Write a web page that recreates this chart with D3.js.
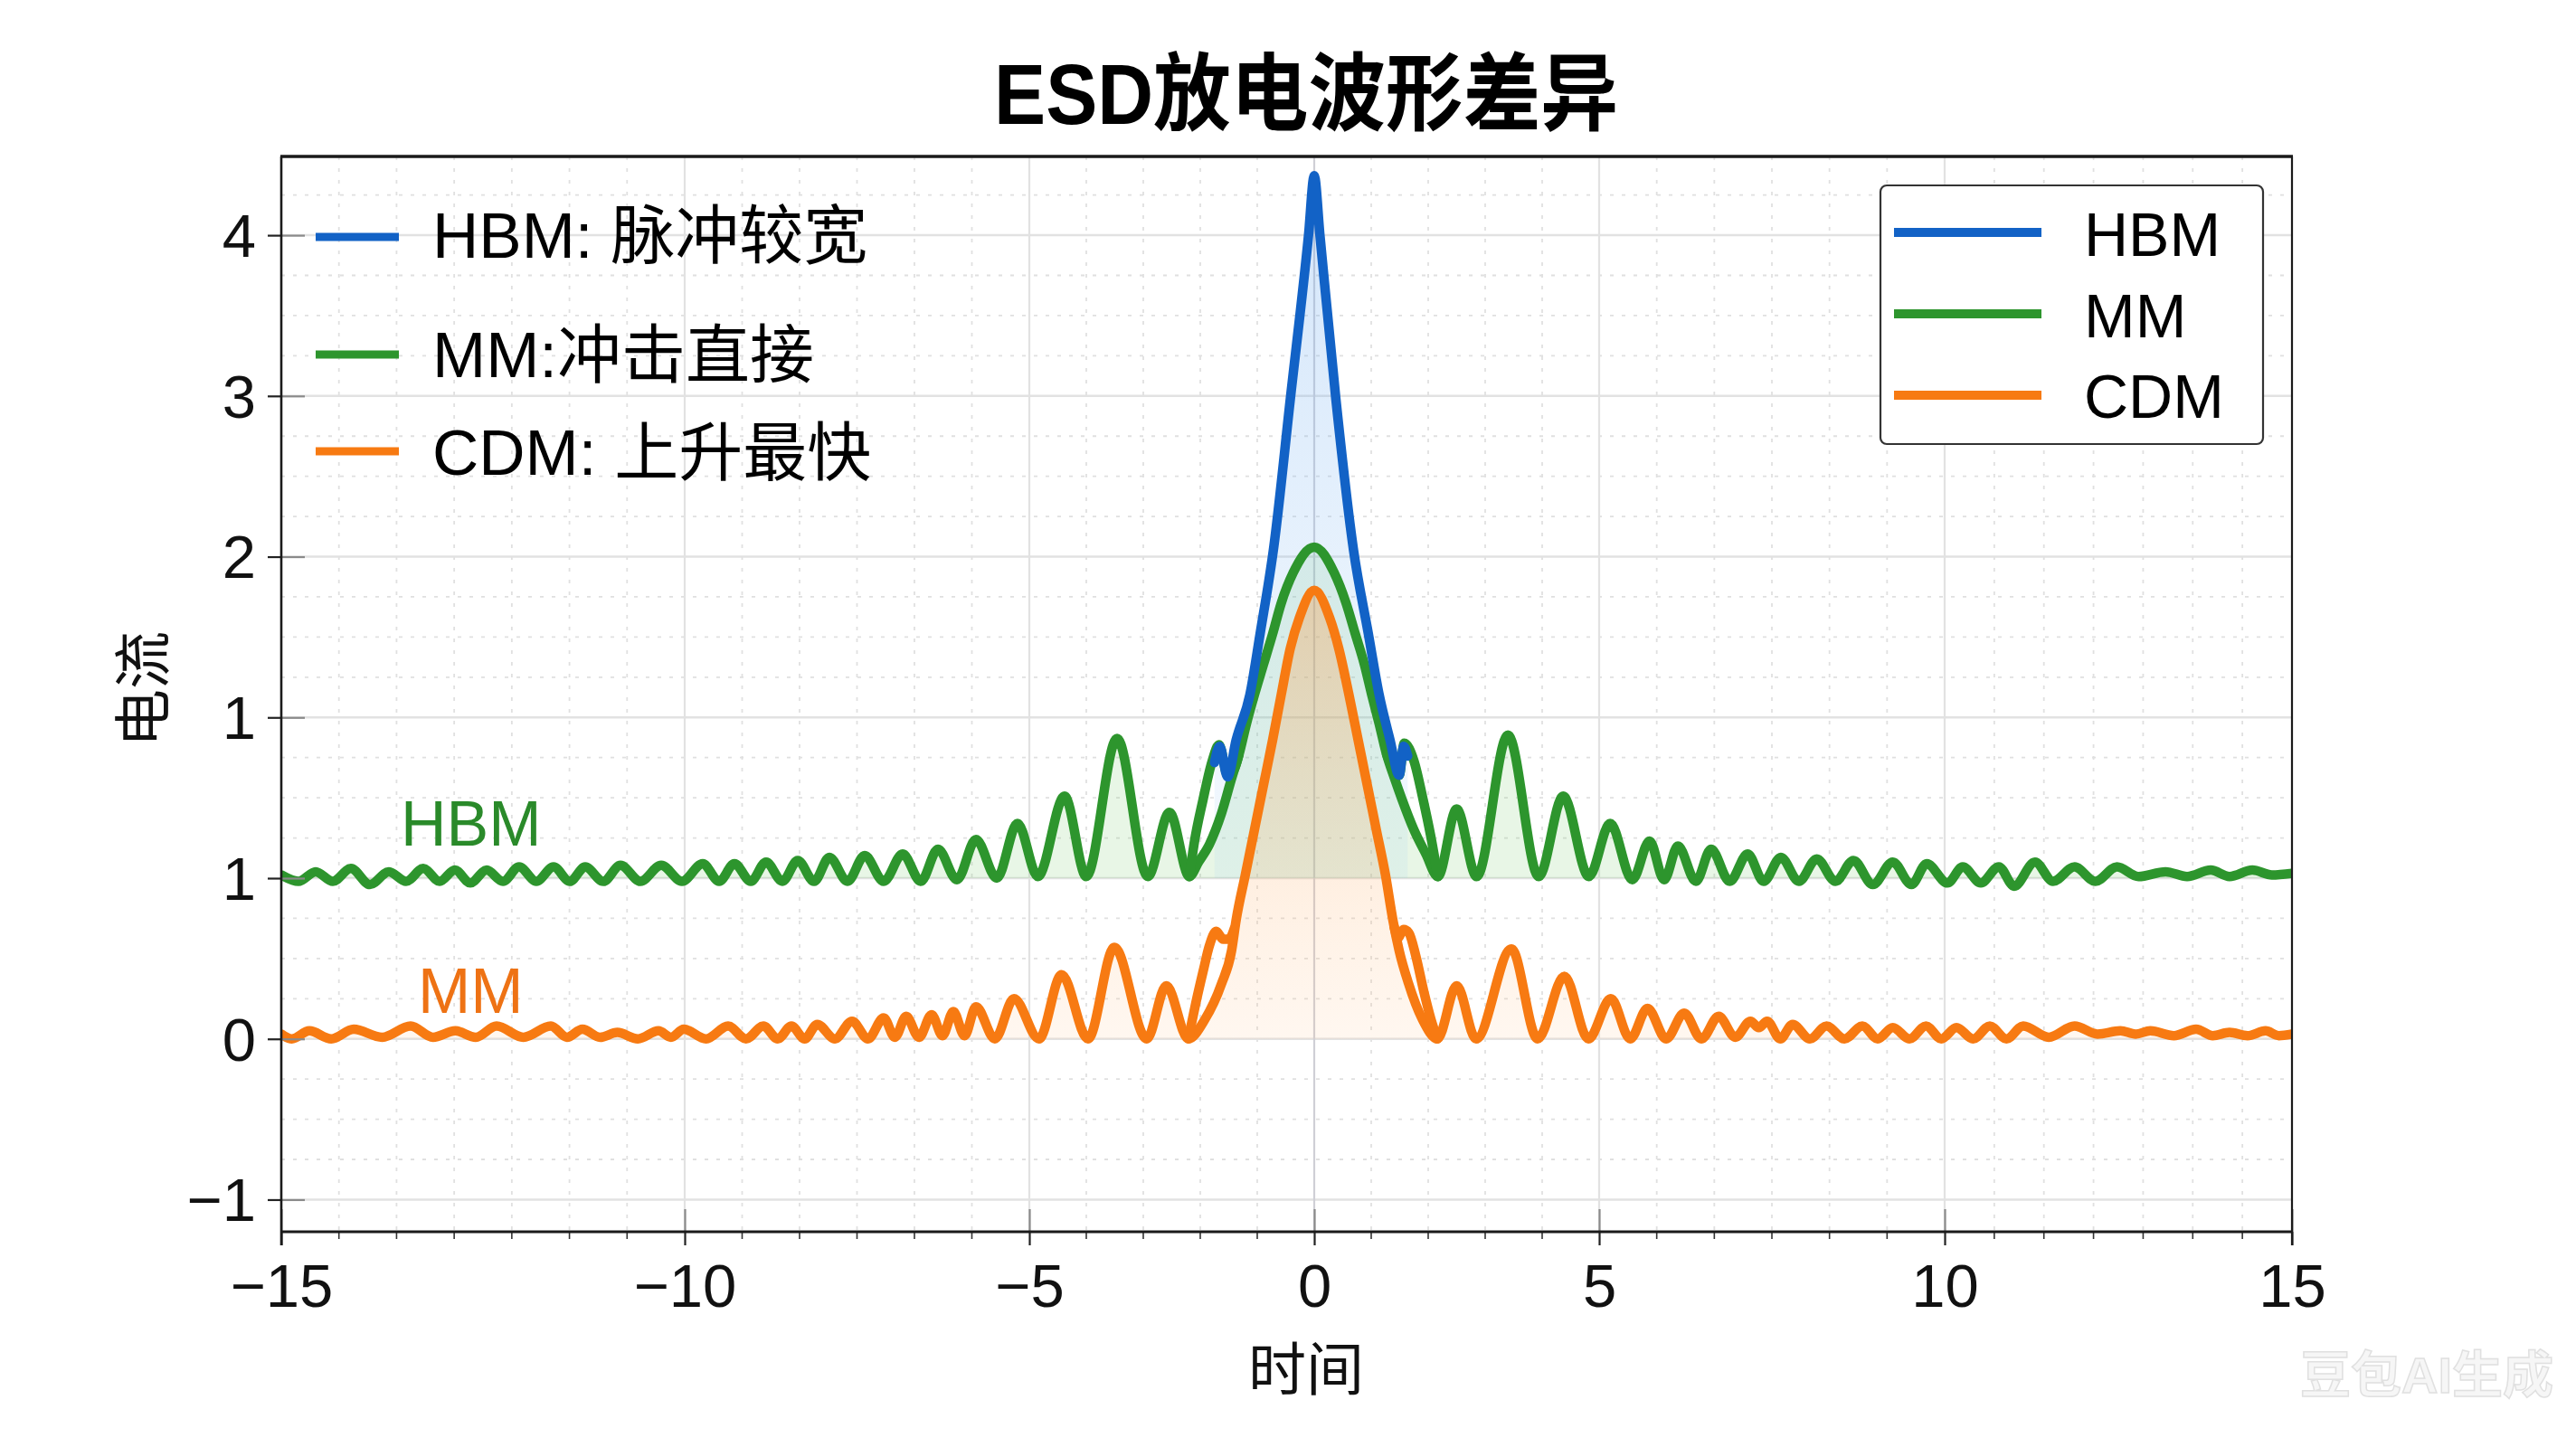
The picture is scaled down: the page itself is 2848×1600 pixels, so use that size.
<!DOCTYPE html>
<html><head><meta charset="utf-8">
<script src="https://cdn.jsdelivr.net/npm/d3@7"></script>
<style>
html,body{margin:0;padding:0;background:#fff;}
svg{display:block;}
text{font-family:"Liberation Sans","Noto Sans CJK SC",sans-serif;}
</style></head><body>
<svg id="chart" width="2848" height="1600"></svg>
<script>
// ---------- data ----------
const chartTitle = "ESD放电波形差异";
const xAxisTitle = "时间";
const yAxisTitle = "电流";
const seriesNames = ["HBM", "MM", "CDM"];
const noteTexts = ["HBM: 脉冲较宽", "MM:冲击直接", "CDM: 上升最快"];
const inPlotLabels = ["HBM", "MM"];
const watermark = "豆包AI生成";

const xTicks = [-15, -10, -5, 0, 5, 10, 15];
const xTickLabels = ["−15", "−10", "−5", "0", "5", "10", "15"];
const yTicks = [-1, 0, 1, 2, 3, 4, 5];
const yTickLabels = ["−1", "0", "1", "1", "2", "3", "4"];

// HBM (blue) main pulse
const hbmTime =    [-1.75,-1.66,-1.52,-1.37,-1.13,-0.95,-0.71,-0.42,-0.10,0,0.10,0.38,0.69,0.95,1.14,1.33,1.49,1.57,1.64];
const hbmCurrent = [1.72,1.82,1.63,1.86,2.14,2.52,3.06,3.98,5.0,5.37,5.0,3.98,3.04,2.52,2.14,1.86,1.64,1.82,1.76];

// MM (green) main trace, baseline 1
const mmTime = [-15.0,-14.787,-14.574,-14.361,-14.137,-13.901,-13.666,-13.453,-13.240,-13.038,-12.848,-12.657,-12.455,-12.253,-12.052,-11.839,-11.626,-11.424,-11.233,-11.009,-10.796,-10.549,-10.291,-10.034,-9.738,-9.501,-9.278,-9.042,-8.819,-8.583,-8.360,-8.123,-7.900,-7.638,-7.388,-7.113,-6.837,-6.575,-6.325,-6.050,-5.774,-5.472,-5.171,-4.85,-4.381,-4.0,-3.46,-2.92,-2.54,-2.19,
  -2.03,-1.84,-1.63,-1.45,-1.32,-1.19,-1.05,-0.89,-0.73,-0.58,-0.37,0,0.35,0.56,0.72,0.88,1.01,1.14,1.27,1.41,1.54,1.75,1.96,2.17,
  2.50,2.85,3.40,3.94,4.37,4.82,5.16,5.48,5.73,5.94,6.14,6.40,6.62,6.89,7.15,7.38,7.63,7.89,8.15,8.42,8.68,8.96,9.25,9.52,9.74,10.04,10.26,10.52,10.78,11.0,11.30,11.56,11.87,12.17,12.48,12.79,13.18,13.49,13.83,14.10,14.43,14.71,15.0];
const mmCurrent = [1.02,0.98,1.04,0.98,1.06,0.96,1.04,0.98,1.06,0.98,1.05,0.97,1.05,0.98,1.07,0.98,1.07,0.98,1.07,0.98,1.08,0.98,1.08,0.98,1.09,0.98,1.09,0.98,1.10,0.98,1.11,0.98,1.13,0.98,1.14,0.98,1.15,0.98,1.18,0.99,1.24,1.0,1.34,1.01,1.51,1.01,1.87,1.01,1.41,1.01,
  1.10,1.21,1.40,1.62,1.77,1.96,2.14,2.33,2.52,2.71,2.90,3.06,2.90,2.71,2.52,2.33,2.14,1.96,1.77,1.62,1.49,1.30,1.15,1.01,
  1.43,1.01,1.89,1.01,1.51,1.01,1.34,0.99,1.23,0.99,1.20,0.98,1.18,0.98,1.15,0.98,1.13,0.98,1.12,0.98,1.11,0.96,1.10,0.96,1.09,0.97,1.07,0.97,1.07,0.95,1.10,0.98,1.07,0.98,1.07,1.01,1.04,1.01,1.05,1.01,1.05,1.02,1.03];
// MM side hooks (second trace segments near the pulse)
const mmHookLTime =    [-2.19,-2.11,-1.95,-1.79,-1.67,-1.52,-1.40,-1.32];
const mmHookLCurrent = [1.01,1.21,1.49,1.73,1.83,1.64,1.68,1.77];
const mmHookRTime =    [1.27,1.38,1.49,1.58,1.75,1.91,2.04,2.17];
const mmHookRCurrent = [1.77,1.68,1.64,1.84,1.73,1.49,1.27,1.01];

// CDM (orange) main trace, baseline 0
const cdmTime = [-15.0,-14.87,-14.652,-14.38,-14.103,-13.75,-13.397,-13.12,-12.842,-12.59,-12.332,-12.0,-11.659,-11.46,-11.267,-11.05,-10.835,-10.58,-10.325,-10.17,-10.011,-9.69,-9.370,-9.11,-8.858,-8.65,-8.451,-8.26,-8.077,-7.82,-7.572,-7.34,-7.113,-6.95,-6.787,-6.60,-6.417,-6.26,-6.102,-5.94,-5.774,-5.50,-5.223,-4.83,-4.433,-3.97,-3.508,-2.94,-2.595,-2.21,
  -1.92,-1.63,-1.45,-1.37,-1.21,-1.05,-0.89,-0.73,-0.58,-0.42,-0.26,0,0.27,0.43,0.61,0.77,0.93,1.09,1.25,1.38,1.49,1.65,1.90,2.16,
  2.50,2.84,3.46,3.92,4.39,4.81,5.17,5.45,5.70,5.97,6.23,6.48,6.73,6.97,7.19,7.31,7.43,7.62,7.80,8.05,8.29,8.55,8.81,9.03,9.25,9.49,9.73,9.95,10.17,10.41,10.65,10.89,11.13,11.50,11.87,12.2,12.53,12.75,12.96,13.3,13.62,13.86,14.10,14.36,14.62,14.81,15.0];
const cdmCurrent = [0.03,0.0,0.05,0.0,0.06,0.01,0.08,0.01,0.05,0.01,0.08,0.01,0.08,0.01,0.06,0.01,0.04,0.0,0.05,0.01,0.06,0.0,0.08,0.0,0.08,0.0,0.08,0.0,0.09,0.0,0.11,0.0,0.13,0.01,0.14,0.01,0.15,0.02,0.17,0.02,0.20,0.0,0.25,0.0,0.40,0.0,0.57,0.0,0.33,0.0,
  0.12,0.34,0.55,0.74,1.02,1.30,1.58,1.86,2.14,2.43,2.62,2.79,2.62,2.43,2.14,1.86,1.58,1.30,1.02,0.74,0.55,0.35,0.12,0.0,
  0.33,0.0,0.56,0.0,0.39,0.0,0.25,0.0,0.19,0.0,0.16,0.0,0.14,0.01,0.11,0.07,0.11,0.0,0.09,0.0,0.08,0.0,0.08,0.0,0.07,0.0,0.08,0.0,0.07,0.0,0.08,0.0,0.08,0.01,0.08,0.03,0.05,0.03,0.05,0.02,0.06,0.02,0.04,0.02,0.05,0.02,0.03];
const cdmHookLTime =    [-2.21,-2.08,-1.95,-1.84,-1.72,-1.60,-1.50,-1.40];
const cdmHookLCurrent = [0.0,0.22,0.42,0.58,0.67,0.62,0.62,0.69];
const cdmHookRTime =    [1.40,1.47,1.57,1.66,1.78,1.92,2.05,2.16];
const cdmHookRCurrent = [0.70,0.63,0.68,0.66,0.52,0.30,0.12,0.0];

// ---------- layout ----------
const W = 2848, H = 1600;
const L = 311, R = 2534, T = 173, B = 1362;
const xTickPx = [311, 757, 1138, 1453, 1768, 2150, 2534];
const minorDiv = [7, 6, 5, 5, 6, 7];
const COL = {HBM: "#1262c6", MM: "#2d952d", CDM: "#f77a12"};

const svg = d3.select("#chart");
const x = d3.scaleLinear().domain(xTicks).range(xTickPx);
const y = d3.scaleLinear().domain([-1.2, 5.49]).range([B, T]);

const defs = svg.append("defs");
defs.append("clipPath").attr("id", "plotClip").append("rect")
  .attr("x", L).attr("y", T).attr("width", R - L).attr("height", B - T);
const g1 = defs.append("linearGradient").attr("id", "cdmGrad")
  .attr("x1", 0).attr("y1", 0).attr("x2", 0).attr("y2", 1);
g1.append("stop").attr("offset", "0%").attr("stop-color", "rgb(250,150,60)").attr("stop-opacity", 0.34);
g1.append("stop").attr("offset", "100%").attr("stop-color", "rgb(255,190,130)").attr("stop-opacity", 0.12);
const g2 = defs.append("linearGradient").attr("id", "hbmGrad")
  .attr("x1", 0).attr("y1", 0).attr("x2", 0).attr("y2", 1);
g2.append("stop").attr("offset", "0%").attr("stop-color", "rgb(110,170,240)").attr("stop-opacity", 0.30);
g2.append("stop").attr("offset", "100%").attr("stop-color", "rgb(150,200,245)").attr("stop-opacity", 0.12);

svg.append("rect").attr("width", W).attr("height", H).attr("fill", "#fff");

// minor tick values
const minorTicks = [];
for (let i = 0; i < xTicks.length - 1; i++) {
  const a = xTicks[i], b = xTicks[i + 1], n = minorDiv[i];
  for (let k = 1; k < n; k++) minorTicks.push(a + (b - a) * k / n);
}
const yMinor = d3.range(-1, 5.3, 0.25).filter(v => Math.abs(v - Math.round(v)) > 0.01);

// grid
const grid = svg.append("g");
grid.selectAll(".ymin").data(yMinor).join("line")
  .attr("x1", L).attr("x2", R).attr("y1", d => y(d)).attr("y2", d => y(d))
  .attr("stroke", "#e0e0e0").attr("stroke-width", 1.8).attr("stroke-dasharray", "4,9");
grid.selectAll(".xmin").data(minorTicks).join("line")
  .attr("x1", d => x(d)).attr("x2", d => x(d)).attr("y1", T).attr("y2", B)
  .attr("stroke", "#e0e0e0").attr("stroke-width", 1.8).attr("stroke-dasharray", "4,9");
grid.selectAll(".ymaj").data(yTicks).join("line")
  .attr("x1", L).attr("x2", R).attr("y1", d => y(d)).attr("y2", d => y(d))
  .attr("stroke", "#e2e2e2").attr("stroke-width", 2.5);
grid.selectAll(".xmaj").data(xTicks.slice(1, -1)).join("line")
  .attr("x1", d => x(d)).attr("x2", d => x(d)).attr("y1", T).attr("y2", B)
  .attr("stroke", d => d === 0 ? "#cfcfd6" : "#e2e2e2").attr("stroke-width", 2.2);

// series helpers
const pts = (t, c) => d3.zip(t, c);
const line = d3.line().x(d => x(d[0])).y(d => y(d[1])).curve(d3.curveMonotoneX);
const area = base => d3.area().x(d => x(d[0])).y0(y(base)).y1(d => y(d[1])).curve(d3.curveMonotoneX);

const plot = svg.append("g").attr("clip-path", "url(#plotClip)");
plot.append("path").attr("d", area(1)(pts(mmTime, mmCurrent))).attr("fill", "rgb(110,200,100)").attr("fill-opacity", 0.16);
plot.append("path").attr("d", area(1)(pts(hbmTime, hbmCurrent))).attr("fill", "url(#hbmGrad)");
plot.append("path").attr("d", area(0)(pts(cdmTime, cdmCurrent))).attr("fill", "url(#cdmGrad)");

function drawLine(t, c, color) {
  plot.append("path").attr("d", line(pts(t, c))).attr("fill", "none")
    .attr("stroke", color).attr("stroke-width", 10.5)
    .attr("stroke-linejoin", "round").attr("stroke-linecap", "round");
}
drawLine(mmTime, mmCurrent, COL.MM);
drawLine(mmHookLTime, mmHookLCurrent, COL.MM);
drawLine(mmHookRTime, mmHookRCurrent, COL.MM);
drawLine(cdmTime, cdmCurrent, COL.CDM);
drawLine(cdmHookLTime, cdmHookLCurrent, COL.CDM);
drawLine(cdmHookRTime, cdmHookRCurrent, COL.CDM);
drawLine(hbmTime, hbmCurrent, COL.HBM);

// axes
const xAxis = d3.axisBottom(x).tickValues(xTicks).tickFormat((d, i) => xTickLabels[i])
  .tickSize(15).tickSizeOuter(0).tickPadding(20);
const gx = svg.append("g").attr("transform", `translate(0,${B})`).call(xAxis);
gx.select(".domain").remove();
gx.selectAll(".tick line").attr("stroke", "#222").attr("stroke-width", 2.2);
gx.selectAll(".tick text").attr("font-size", 67).attr("fill", "#111")
  .style("font-family", '"Liberation Sans", sans-serif');
gx.selectAll(".tick").append("line").attr("y1", 0).attr("y2", -25)
  .attr("stroke", "#8a8a8a").attr("stroke-width", 2.2);

const gxm = svg.append("g");
gxm.selectAll("line").data(minorTicks).join("line")
  .attr("x1", d => x(d)).attr("x2", d => x(d)).attr("y1", B).attr("y2", B + 8)
  .attr("stroke", "#333").attr("stroke-width", 1.6);

const yAxis = d3.axisLeft(y).tickValues(yTicks).tickFormat((d, i) => yTickLabels[i])
  .tickSize(15).tickSizeOuter(0).tickPadding(13);
const gy = svg.append("g").attr("transform", `translate(${L},0)`).call(yAxis);
gy.select(".domain").remove();
gy.selectAll(".tick line").attr("stroke", "#222").attr("stroke-width", 2.2);
gy.selectAll(".tick text").attr("font-size", 67).attr("fill", "#111").attr("dy", "0.35em")
  .style("font-family", '"Liberation Sans", sans-serif');
gy.selectAll(".tick").append("line").attr("x1", 0).attr("x2", 26)
  .attr("stroke", "#8a8a8a").attr("stroke-width", 2.2);

// frame
const frame = svg.append("g").attr("stroke", "#1a1a1a").attr("fill", "none");
frame.append("line").attr("x1", L - 1).attr("x2", R + 1).attr("y1", T).attr("y2", T).attr("stroke-width", 3.5);
frame.append("line").attr("x1", L - 1).attr("x2", R + 1).attr("y1", B).attr("y2", B).attr("stroke-width", 3.2);
frame.append("line").attr("x1", L).attr("x2", L).attr("y1", T).attr("y2", B + 15).attr("stroke-width", 2.6);
frame.append("line").attr("x1", R).attr("x2", R).attr("y1", T).attr("y2", B + 15).attr("stroke-width", 2.2);

// titles
svg.append("text").attr("x", 1444).attr("y", 137).attr("text-anchor", "middle")
  .attr("font-size", 94).attr("font-weight", "bold").attr("fill", "#000")
  .attr("textLength", 690).attr("lengthAdjust", "spacingAndGlyphs").text(chartTitle);
svg.append("text").attr("x", 1444).attr("y", 1537).attr("text-anchor", "middle")
  .attr("font-size", 64).attr("fill", "#111").text(xAxisTitle);
svg.append("text").attr("transform", "translate(181,762) rotate(-90)").attr("text-anchor", "middle")
  .attr("font-size", 64).attr("fill", "#111").text(yAxisTitle);

// annotation list (top-left)
const noteY = [262, 392, 499];
const noteBase = [285, 417, 525];
const noteCols = [COL.HBM, COL.MM, COL.CDM];
noteTexts.forEach((t, i) => {
  svg.append("line").attr("x1", 349).attr("x2", 441).attr("y1", noteY[i]).attr("y2", noteY[i])
    .attr("stroke", noteCols[i]).attr("stroke-width", 9);
  svg.append("text").attr("x", 478).attr("y", noteBase[i]).attr("font-size", 71).attr("fill", "#000").text(t);
});

// legend box (top-right)
svg.append("rect").attr("x", 2079).attr("y", 205).attr("width", 423).attr("height", 286).attr("rx", 7)
  .attr("fill", "#fff").attr("stroke", "#333").attr("stroke-width", 2.2);
const legY = [257, 347, 437], legBase = [283, 373, 462];
seriesNames.forEach((s, i) => {
  svg.append("line").attr("x1", 2094).attr("x2", 2257).attr("y1", legY[i]).attr("y2", legY[i])
    .attr("stroke", COL[s]).attr("stroke-width", 10);
  svg.append("text").attr("x", 2304).attr("y", legBase[i]).attr("font-size", 68).attr("fill", "#000").text(s);
});

// in-plot labels
svg.append("text").attr("x", 443).attr("y", 935).attr("font-size", 70).attr("fill", "#2a8a2a").text(inPlotLabels[0]);
svg.append("text").attr("x", 462).attr("y", 1120).attr("font-size", 70).attr("fill", "#ee7214").text(inPlotLabels[1]);

// watermark
svg.append("text").attr("x", 2543).attr("y", 1540).attr("font-size", 56).attr("font-weight", "bold")
  .attr("fill", "#f6f6f6").attr("stroke", "#e0e0e0").attr("stroke-width", 1.5).text(watermark);
</script>
</body></html>
